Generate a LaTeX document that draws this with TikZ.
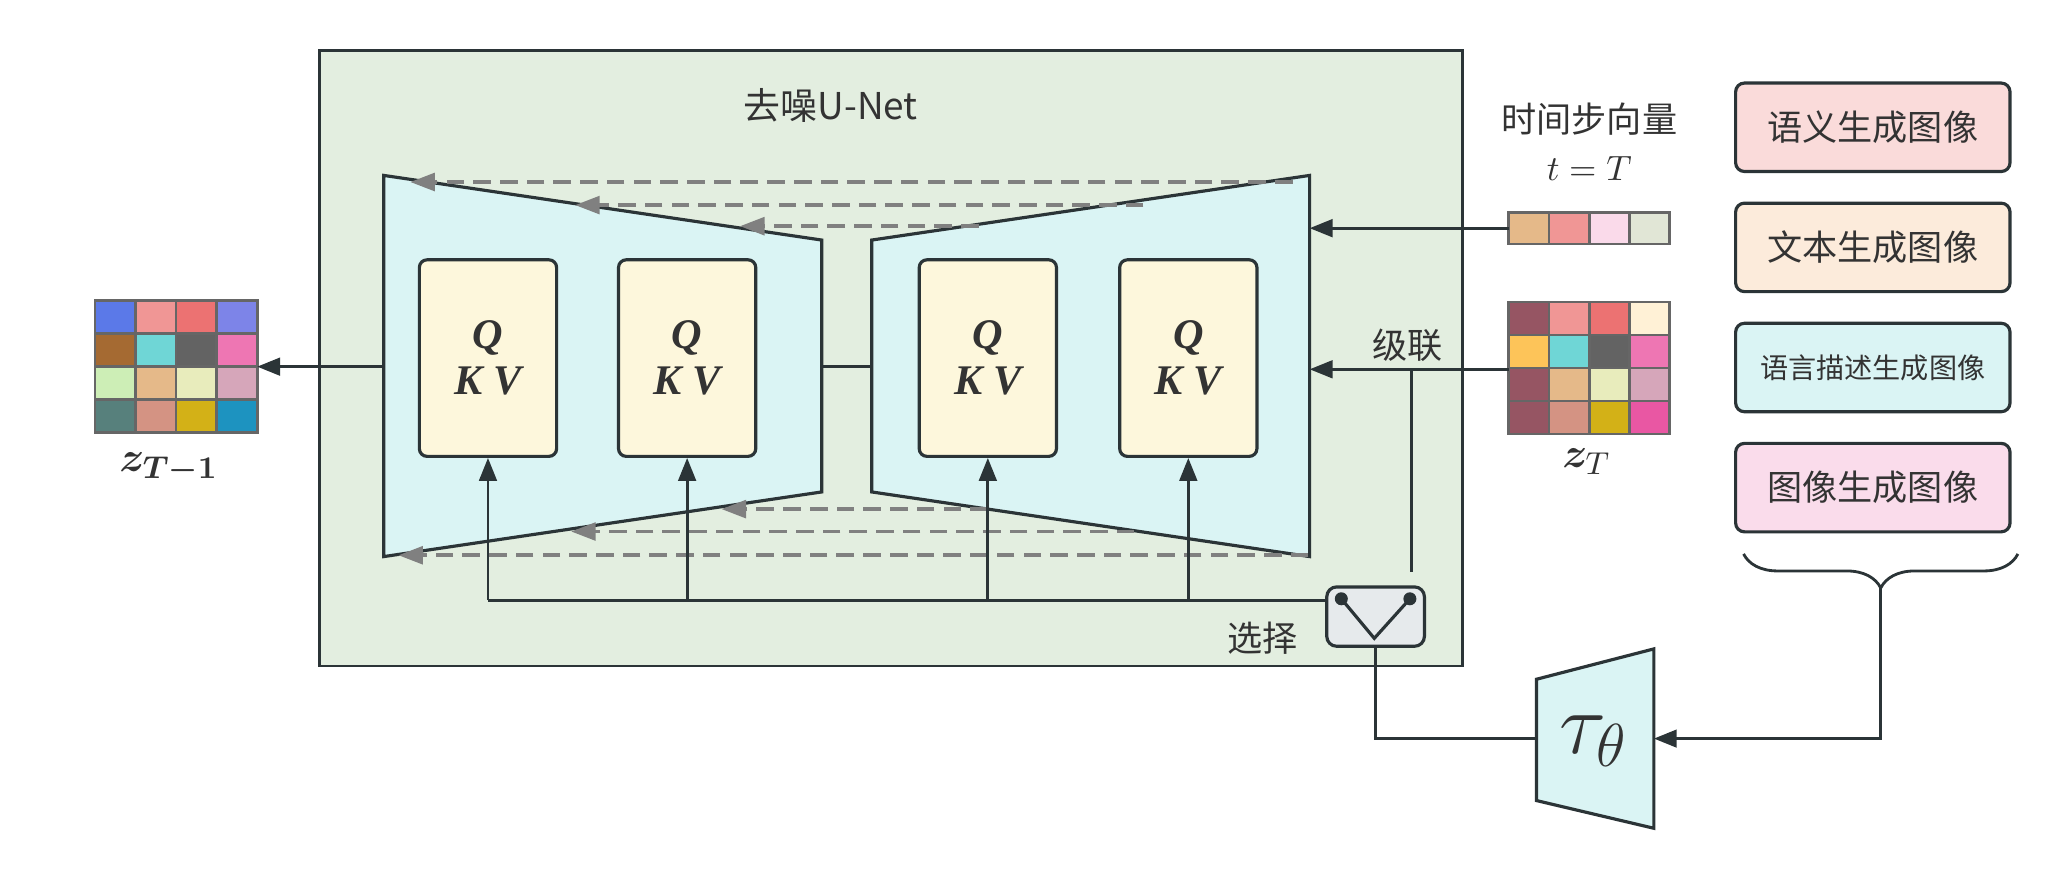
\documentclass[tikz,border=0pt]{standalone}
\usepackage[no-math]{fontspec}
\usepackage{amsmath, bm}
\setmainfont{Noto Sans CJK SC}
\newfontfamily\qkvfont{Liberation Serif}
\usetikzlibrary{arrows.meta, decorations.pathreplacing, positioning}

% cores
\definecolor{fundo}{HTML}{E3EEE0}
\definecolor{borda}{HTML}{2B3437}
\definecolor{trap}{HTML}{DAF4F4}
\definecolor{qkvfill}{HTML}{FDF7DC}
\definecolor{selfill}{HTML}{E6EAEC}
\definecolor{cinza}{HTML}{808080}
\definecolor{grade}{HTML}{666666}
\definecolor{txt}{HTML}{333333}
\definecolor{c-azul}{HTML}{5B79E8}
\definecolor{c-salmao}{HTML}{F09695}
\definecolor{c-verm}{HTML}{EC7272}
\definecolor{c-lilas}{HTML}{7D84E8}
\definecolor{c-marrom}{HTML}{A56A32}
\definecolor{c-ciano}{HTML}{6FD6D6}
\definecolor{c-grafite}{HTML}{636363}
\definecolor{c-rosa}{HTML}{EE76B3}
\definecolor{c-verde}{HTML}{CDEEB6}
\definecolor{c-bege}{HTML}{E5B989}
\definecolor{c-creme}{HTML}{E8ECBC}
\definecolor{c-malva}{HTML}{D6A6BA}
\definecolor{c-petroleo}{HTML}{57807C}
\definecolor{c-terra}{HTML}{D49383}
\definecolor{c-mostarda}{HTML}{D3B117}
\definecolor{c-oceano}{HTML}{1D93C0}
\definecolor{c-vinho}{HTML}{965563}
\definecolor{c-gema}{HTML}{FDC459}
\definecolor{c-marfim}{HTML}{FFF1D6}
\definecolor{c-magenta}{HTML}{E957A3}
\definecolor{c-rosinha}{HTML}{FADAEA}
\definecolor{c-salvia}{HTML}{E1E6D6}
\definecolor{b-sem}{HTML}{FADBDA}
\definecolor{b-txt}{HTML}{FCEBDB}
\definecolor{b-ling}{HTML}{DAF4F4}
\definecolor{b-img}{HTML}{FADCEB}

\begin{document}
\begin{tikzpicture}[x=0.013189cm, y=-0.013189cm, text=txt,
  font=\fontsize{10}{12}\selectfont,
  linha/.style={draw=borda, line width=0.8pt},
  seta/.style={linha, -{Triangle[length=6.5pt, width=5pt]}},
  salto/.style={draw=cinza, line width=1.1pt, dash pattern=on 5pt off 2.6pt, -{Triangle[length=7pt, width=5pt]}},
  bloco/.style={draw=borda, line width=0.9pt, fill=trap},
  atencao/.style={draw=borda, line width=0.9pt, fill=qkvfill, rounded corners=2.2pt, minimum width=1.372cm, minimum height=1.965cm, align=center, inner sep=0pt, font=\fontsize{12}{13}\qkvfont\bfseries\itshape},
  cond/.style={draw=borda, line width=0.9pt, rounded corners=2.5pt, minimum width=2.743cm, minimum height=0.884cm, inner sep=0pt},
  celula/.style={draw=grade, line width=0.8pt}]

\useasboundingbox (0,0) rectangle (1568,666);

% U-Net de remocao de ruido
\draw[fill=fundo, draw=borda, line width=0.8pt] (242,38) rectangle (1109,505);
\node[font=\fontsize{10.5}{12}\selectfont] (unet) at (630,80) {去噪U-Net};

% codificador e decodificador
\draw[bloco] (291,133) -- (623,182) -- (623,373) -- (291,422) -- cycle;
\draw[bloco] (661,182) -- (993,133) -- (993,422) -- (661,373) -- cycle;
\coordinate (enc-w) at (291,278);
\coordinate (enc-e) at (623,278);
\coordinate (dec-w) at (661,278);
\coordinate (dec-t) at (993,173);
\coordinate (dec-c) at (993,280);

% blocos de atencao
\foreach \i/\x in {1/370, 2/521, 3/749, 4/901}
  \node[atencao] (qkv\i) at (\x,271.5) {Q\\K V};

% conexoes de salto
\foreach \k/\ya/\xa/\xb in {1/138/980/311, 2/155.5/867/436, 3/171.5/742/561, 4/386/749/547, 5/403/860/433, 6/421/992/302} {
  \coordinate (saltoA\k) at (\xa,\ya);
  \coordinate (saltoB\k) at (\xb,\ya);
  \draw[salto] (saltoA\k) -- (saltoB\k);
}

% ligacao central
\draw[linha] (enc-e) -- (dec-w);

% z_{T-1}
\foreach \fila [count=\r from 0] in {{c-azul,c-salmao,c-verm,c-lilas},{c-marrom,c-ciano,c-grafite,c-rosa},{c-verde,c-bege,c-creme,c-malva},{c-petroleo,c-terra,c-mostarda,c-oceano}}
  \foreach \c [count=\s from 0] in \fila
    \filldraw[celula, fill=\c] (72+30.75*\s,228+25*\r) rectangle ++(30.75,25);
\coordinate (zout-e) at (195,278);
\node (zout) at (128,355) {\fontsize{12.5}{14}\selectfont $\boldsymbol{z}_{\boldsymbol{T-1}}$};
\draw[seta] (enc-w) -- (zout-e);

% vetor de passo de tempo
\node (tempo) at (1205,90) {时间步向量};
\node (tT) at (1205,128) {$t = T$};
\foreach \c [count=\s from 0] in {c-bege,c-salmao,c-rosinha,c-salvia}
  \filldraw[celula, fill=\c] (1144+30.5*\s,161) rectangle ++(30.5,24);
\coordinate (tvec-w) at (1144,173);
\draw[seta] (tvec-w) -- (dec-t);

% z_T
\foreach \fila [count=\r from 0] in {{c-vinho,c-salmao,c-verm,c-marfim},{c-gema,c-ciano,c-grafite,c-rosa},{c-vinho,c-bege,c-creme,c-malva},{c-vinho,c-terra,c-mostarda,c-magenta}}
  \foreach \c [count=\s from 0] in \fila
    \filldraw[celula, fill=\c] (1144+30.5*\s,229+25*\r) rectangle ++(30.5,25);
\node (zin) at (1203,350) {\fontsize{12.5}{14}\selectfont $\boldsymbol{z}_T$};
\coordinate (zin-w) at (1144,280);
\draw[seta] (zin-w) -- (dec-c);

% concatenacao
\node (concat) at (1067,262) {级联};
\coordinate (junta) at (1070,280);
\coordinate (junta-fim) at (1070,434);
\draw[linha] (junta) -- (junta-fim);

% seletor
\node[draw=borda, line width=0.9pt, fill=selfill, rounded corners=2.8pt, minimum width=0.976cm, minimum height=0.593cm] (sel) at (1043,467.5) {};
\draw[linha, line width=0.9pt] (1017,454) -- (1042,484) -- (1069,454);
\fill[borda] (1017,454) circle[radius=0.065cm];
\fill[borda] (1069,454) circle[radius=0.065cm];
\node (escolha) at (957,484) {选择};

% barramento para Q K V
\coordinate (bus) at (370,455);
\draw[linha] (qkv1.south |- bus) -- (sel.west |- bus);
\foreach \i in {1,...,4}
  \draw[seta] (qkv\i.south |- bus) -- (qkv\i.south);

% codificador tau
\draw[bloco] (1165,515) -- (1254,492) -- (1254,628) -- (1165,607) -- cycle;
\node (tau) at (1208,562) {\fontsize{23}{25}\selectfont $\tau_\theta$};
\coordinate (tau-w) at (1165,560);
\coordinate (tau-e) at (1254,560);
\draw[linha] (sel.south) |- (tau-w);

% condicoes
\node[cond, fill=b-sem] (cond1) at (1420,96.5) {语义生成图像};
\node[cond, fill=b-txt, below=0.285cm of cond1] (cond2) {文本生成图像};
\node[cond, fill=b-ling, below=0.285cm of cond2, font=\fontsize{8}{10}\selectfont] (cond3) {语言描述生成图像};
\node[cond, fill=b-img, below=0.285cm of cond3] (cond4) {图像生成图像};

% chave
\draw[linha, decorate, decoration={brace, mirror, amplitude=0.34cm}] (1322,420) -- (1530,420);
\coordinate (chave) at (1426,446);
\draw[seta] (chave) |- (tau-e);

\end{tikzpicture}
\end{document}
